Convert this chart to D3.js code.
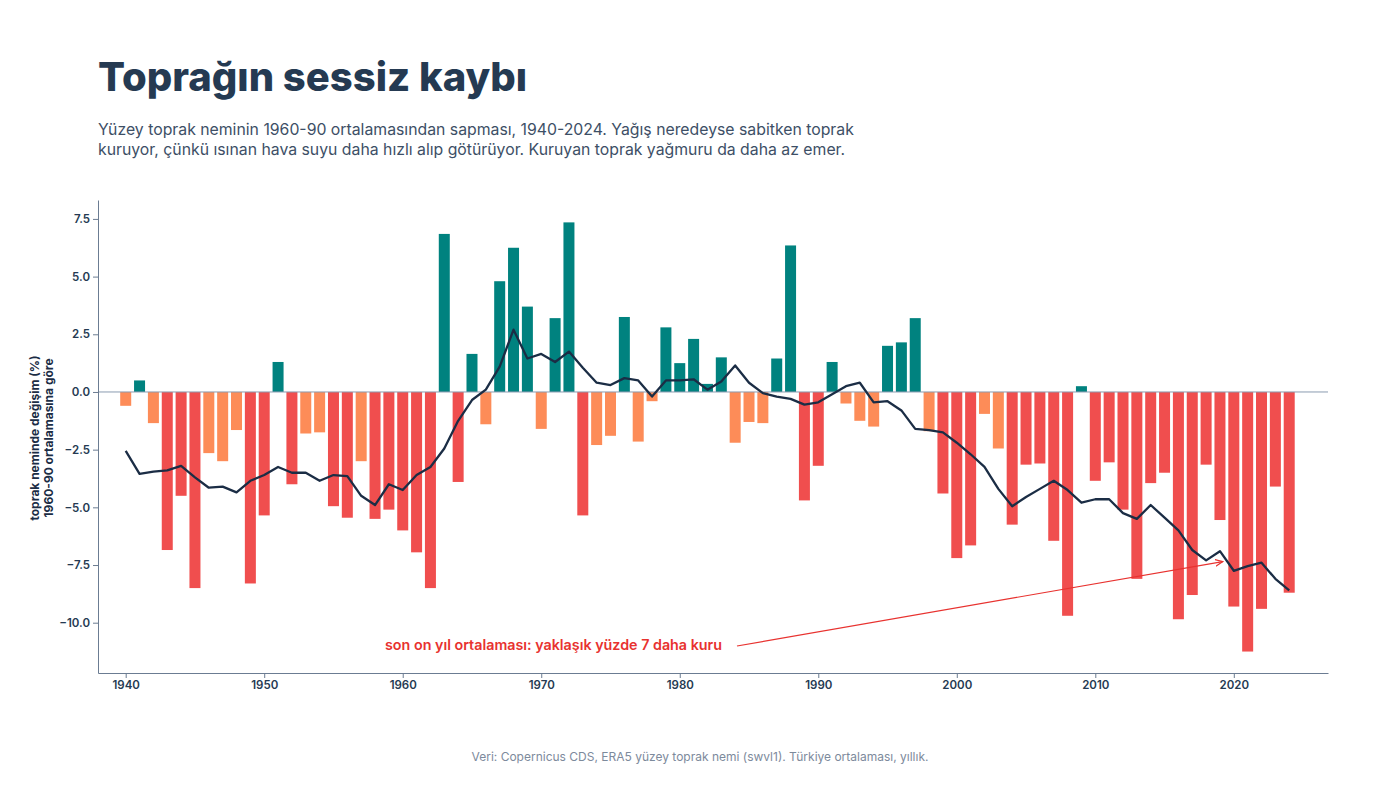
<!DOCTYPE html>
<html>
<head>
<meta charset="utf-8">
<script src="https://cdn.jsdelivr.net/npm/d3@7"></script>
<style>
body { margin: 0; background: #fff; font-family: Inter, "Noto Sans", sans-serif; }
</style>
</head>
<body>
<svg id="chart" width="1400" height="788"></svg>
<script>
var years = d3.range(1940, 2025);

var anomaly = [-0.6, 0.5, -1.35, -6.85, -4.5, -8.5, -2.65, -3.0, -1.65, -8.3,
  -5.35, 1.3, -4.0, -1.8, -1.75, -4.95, -5.45, -3.0, -5.5, -5.1,
  -6.0, -6.95, -8.5, 6.85, -3.9, 1.65, -1.4, 4.8, 6.25, 3.7,
  -1.6, 3.2, 7.35, -5.35, -2.3, -1.9, 3.25, -2.15, -0.4, 2.8,
  1.25, 2.3, 0.35, 1.5, -2.2, -1.3, -1.35, 1.45, 6.35, -4.7,
  -3.2, 1.3, -0.5, -1.25, -1.5, 2.0, 2.15, 3.2, -1.7, -4.4,
  -7.2, -6.65, -0.95, -2.45, -5.75, -3.15, -3.1, -6.45, -9.7, 0.25,
  -3.85, -3.05, -5.1, -8.1, -3.95, -3.5, -9.85, -8.8, -3.15, -5.55,
  -9.3, -11.25, -9.4, -4.1, -8.7];

var smooth = [-2.55, -3.55, -3.45, -3.4, -3.2, -3.7, -4.15, -4.1, -4.35, -3.85,
  -3.6, -3.25, -3.5, -3.5, -3.85, -3.6, -3.65, -4.5, -4.9, -4.0,
  -4.25, -3.6, -3.25, -2.45, -1.25, -0.35, 0.1, 1.1, 2.7, 1.45,
  1.65, 1.3, 1.75, 1.05, 0.4, 0.3, 0.6, 0.5, -0.2, 0.5,
  0.5, 0.55, 0.1, 0.45, 1.15, 0.4, -0.05, -0.2, -0.3, -0.55,
  -0.45, -0.1, 0.25, 0.4, -0.45, -0.4, -0.8, -1.6, -1.65, -1.75,
  -2.2, -2.7, -3.25, -4.2, -4.95, -4.55, -4.2, -3.85, -4.25, -4.8,
  -4.65, -4.65, -5.25, -5.5, -4.9, -5.45, -6.0, -6.85, -7.3, -6.9,
  -7.75, -7.55, -7.4, -8.1, -8.6];

var xTicks = [1940, 1950, 1960, 1970, 1980, 1990, 2000, 2010, 2020];
var yTicks = [-10, -7.5, -5, -2.5, 0, 2.5, 5, 7.5];

var ink = "#253a52";
var svg = d3.select("#chart");

var x = d3.scaleLinear().domain([1938, 2026.8]).range([98, 1328]);
var y = d3.scaleLinear().domain([-12.18, 8.32]).range([673, 200]);

function barColor(v) {
  if (v >= 0) return "#00827f";
  if (v > -3.05) return "#fd8c58";
  return "#f04e4e";
}

// title and subtitle
svg.append("text").attr("x", 98).attr("y", 91)
  .attr("font-size", 40).attr("font-weight", 800).attr("fill", ink)
  .text("Toprağın sessiz kaybı");
svg.append("text").attr("x", 98).attr("y", 135)
  .attr("font-size", 15.8).attr("fill", "#3d4f66")
  .text("Yüzey toprak neminin 1960-90 ortalamasından sapması, 1940-2024. Yağış neredeyse sabitken toprak");
svg.append("text").attr("x", 98).attr("y", 155)
  .attr("font-size", 15.8).attr("fill", "#3d4f66")
  .text("kuruyor, çünkü ısınan hava suyu daha hızlı alıp götürüyor. Kuruyan toprak yağmuru da daha az emer.");

// bars
var bw = 11;
svg.append("g").selectAll("rect").data(years).join("rect")
  .attr("x", function (d) { return x(d) - bw / 2; })
  .attr("width", bw)
  .attr("y", function (d, i) { return y(Math.max(0, anomaly[i])); })
  .attr("height", function (d, i) { return Math.abs(y(anomaly[i]) - y(0)); })
  .attr("fill", function (d, i) { return barColor(anomaly[i]); });

// zero line
svg.append("line").attr("x1", 98).attr("x2", 1328)
  .attr("y1", y(0)).attr("y2", y(0))
  .attr("stroke", "#8a9bb0").attr("stroke-width", 1);

// smoothed line
var line = d3.line()
  .x(function (d) { return x(d); })
  .y(function (d, i) { return y(smooth[i]); });
svg.append("path").datum(years)
  .attr("d", line).attr("fill", "none")
  .attr("stroke", "#1b2d45").attr("stroke-width", 2.3)
  .attr("stroke-linejoin", "round");

// axes
var xAxis = svg.append("g").attr("transform", "translate(0,673)")
  .call(d3.axisBottom(x).tickValues(xTicks).tickFormat(d3.format("d")).tickSize(5).tickSizeOuter(0));
var yAxis = svg.append("g").attr("transform", "translate(98,0)")
  .call(d3.axisLeft(y).tickValues(yTicks).tickFormat(d3.format(".1f")).tickSize(5).tickSizeOuter(0));
[xAxis, yAxis].forEach(function (a) {
  a.select(".domain").attr("stroke", "#6b7c92");
  a.selectAll(".tick line").attr("stroke", "#6b7c92");
  a.selectAll(".tick text").attr("fill", ink).attr("font-size", 11.5)
    .attr("font-weight", 600).attr("font-family", "Inter, sans-serif");
});

// y label
var yl = svg.append("text").attr("transform", "translate(39,438) rotate(-90)")
  .attr("text-anchor", "middle").attr("font-size", 12).attr("font-weight", 700).attr("fill", "#1b2d45");
yl.append("tspan").attr("x", 0).attr("dy", 0).text("toprak neminde değişim (%)");
yl.append("tspan").attr("x", 0).attr("dy", 14).text("1960-90 ortalamasına göre");

// annotation
svg.append("defs").append("marker").attr("id", "arr")
  .attr("viewBox", "0 0 10 10").attr("refX", 9).attr("refY", 5)
  .attr("markerWidth", 7).attr("markerHeight", 7).attr("orient", "auto")
  .append("path").attr("d", "M0,1 L9,5 L0,9").attr("fill", "none").attr("stroke", "#e8322f").attr("stroke-width", 1.4);
svg.append("line").attr("x1", 737).attr("y1", 646).attr("x2", x(2019.2)).attr("y2", y(-7.35))
  .attr("stroke", "#e8322f").attr("stroke-width", 1.2).attr("marker-end", "url(#arr)");
svg.append("text").attr("x", 722).attr("y", 650).attr("text-anchor", "end")
  .attr("font-size", 14.3).attr("font-weight", 600).attr("fill", "#e8322f")
  .text("son on yıl ortalaması: yaklaşık yüzde 7 daha kuru");

// footer
svg.append("text").attr("x", 700).attr("y", 761).attr("text-anchor", "middle")
  .attr("font-size", 12).attr("fill", "#7d8a9c")
  .text("Veri: Copernicus CDS, ERA5 yüzey toprak nemi (swvl1). Türkiye ortalaması, yıllık.");
</script>
</body>
</html>
